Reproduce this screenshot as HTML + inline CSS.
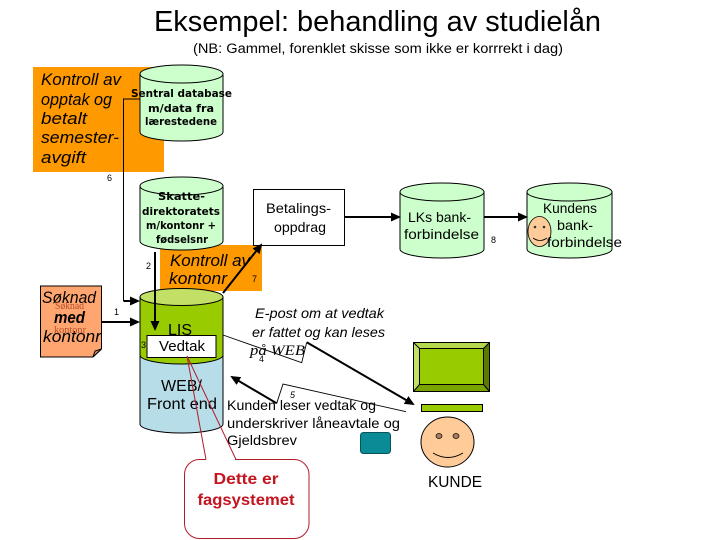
<!DOCTYPE html>
<html><head><meta charset="utf-8"><style>
html,body{margin:0;padding:0;background:#fff}
svg{display:block}
text{font-family:"Liberation Sans",sans-serif;fill:#000}
.b{font-weight:bold;font-size:11px;font-family:"DejaVu Sans",sans-serif}
.i{font-style:italic;font-size:17px}
.n{font-size:14px}
</style></head><body>
<svg width="720" height="540" viewBox="0 0 720 540" xmlns="http://www.w3.org/2000/svg">
<defs><marker id="a" markerWidth="10" markerHeight="10" refX="8" refY="4.500" orient="auto" markerUnits="userSpaceOnUse"><path d="M0 0L10 4.500L0 9Z" fill="#000"/></marker></defs>
<rect width="720" height="540" fill="#fff"/>
<text x="154" y="31" font-size="29" textLength="447" lengthAdjust="spacingAndGlyphs">Eksempel: behandling av studielån</text>
<text x="193" y="53" font-size="13.5" textLength="370" lengthAdjust="spacingAndGlyphs">(NB: Gammel, forenklet skisse som ikke er korrrekt i dag)</text>

<rect x="33" y="67" width="131" height="105" fill="#ff9900"/>
<rect x="160" y="245" width="102" height="46" fill="#ff9900"/>

<g stroke="#000" stroke-width="1" fill="#ccffcc">
<path d="M140 74V132A41.5 9 0 0 0 223 132V74Z"/><ellipse cx="181.500" cy="74" rx="41.500" ry="9"/>
<path d="M140 186V241A41.500 9 0 0 0 223 241V186Z"/><ellipse cx="181.500" cy="186" rx="41.500" ry="9"/>
<path d="M400 192V249A42 9 0 0 0 484 249V192Z"/><ellipse cx="442" cy="192" rx="42" ry="9"/>
<path d="M527 192V249A42.500 9 0 0 0 612 249V192Z"/><ellipse cx="569.500" cy="192" rx="42.500" ry="9"/>
<path d="M140 355V424A41.500 9 0 0 0 223 424V355Z" fill="#b7dde8"/>
<path d="M140 297V355A41.500 9 0 0 0 223 355V297Z" fill="#99cc00"/><ellipse cx="181.500" cy="297" rx="41.500" ry="8.500" fill="#c2e066"/>
</g>

<rect x="253.500" y="189.500" width="91" height="56" fill="#fff" stroke="#000"/>
<rect x="147" y="335.500" width="69" height="22" fill="#fff" stroke="#000"/>
<path d="M40.500 286H101.500V349L93 357H40.500Z" fill="#ffa570" stroke="#000"/>
<path d="M93 357L95 351L101.500 349Z" fill="#d98a58" stroke="#000"/>

<g transform="translate(413,342)">
<rect x="0.500" y="0.500" width="76" height="49" fill="#99cc00" stroke="#000"/>
<path d="M0.500 .5L7 7H70L76.500 .5Z" fill="#b5d94d"/>
<path d="M.5 .5L7 7V43L.5 49.500Z" fill="#c2e066"/>
<path d="M76.500 .5L70 7V43L76.500 49.500Z" fill="#5c7a00"/>
<path d="M.5 49.500L7 43H70L76.500 49.500Z" fill="#7aa300"/>
<rect x="6.500" y="6.500" width="64" height="36" fill="#99cc00" stroke="#000"/>
<path d="M.5 .5L6.500 6.500M76.500 .5L70.500 6.500M.5 49.500L6.500 42.500M76.500 49.500L70.500 42.500" stroke="#000"/>
<rect x=".5" y=".5" width="76" height="49" fill="none" stroke="#000"/>
</g>
<rect x="421.500" y="404.500" width="61" height="7" fill="#99cc00" stroke="#000"/>
<ellipse cx="447.500" cy="442" rx="26.500" ry="25" fill="#ffcc99" stroke="#000"/>
<ellipse cx="439" cy="436" rx="3" ry="2.500" fill="#a88060" stroke="#000" stroke-width=".7"/>
<ellipse cx="456" cy="436" rx="3" ry="2.500" fill="#a88060" stroke="#000" stroke-width=".7"/>
<path d="M433 453Q448 462 463 453" fill="none" stroke="#000"/>
<rect x="360.500" y="432.500" width="30" height="21" rx="3" fill="#0b8b96" stroke="#06545c"/>
<ellipse cx="539.500" cy="231.500" rx="11.500" ry="15" fill="#ffcc99" stroke="#000" stroke-width=".8"/>
<circle cx="535" cy="227" r="1.300" fill="#333"/><circle cx="544" cy="227" r="1.300" fill="#333"/>
<path d="M533 238Q540 243 547 238" fill="none" stroke="#000" stroke-width=".8"/>

<g fill="none" stroke="#000">
<path d="M140 99H123.500V301"/>
<path d="M123.500 301H138" stroke-width="2" marker-end="url(#a)"/>
<path d="M101.500 322H138" stroke-width="2" marker-end="url(#a)"/>
<path d="M155 252V329" stroke-width="2" marker-end="url(#a)"/>
<path d="M223 293L261 245" stroke-width="2" marker-end="url(#a)"/>
<path d="M344.500 217H399" stroke-width="2" marker-end="url(#a)"/>
<path d="M484 217H526" stroke-width="2" marker-end="url(#a)"/>
<path d="M223 335L301.700 362.700L306.700 342.300" stroke-width=".9"/>
<path d="M306.700 342.300L413 404" stroke-width="2" marker-end="url(#a)"/>
<path d="M406 411.700L283 384L276.700 403.300" stroke-width=".9"/>
<path d="M276.700 403.300L232 377" stroke-width="2" marker-end="url(#a)"/>
</g>

<text class="i" x="41" y="85" textLength="80" lengthAdjust="spacingAndGlyphs">Kontroll av</text>
<text class="i" x="41" y="105" textLength="71" lengthAdjust="spacingAndGlyphs">opptak og</text>
<text class="i" x="41" y="124" textLength="46" lengthAdjust="spacingAndGlyphs">betalt</text>
<text class="i" x="41" y="143" textLength="78" lengthAdjust="spacingAndGlyphs">semester-</text>
<text class="i" x="41" y="163" textLength="45" lengthAdjust="spacingAndGlyphs">avgift</text>
<text class="i" x="170" y="266" textLength="80" lengthAdjust="spacingAndGlyphs">Kontroll av</text>
<text class="i" x="169" y="284" textLength="58" lengthAdjust="spacingAndGlyphs">kontonr</text>
<text class="i" x="42" y="303" textLength="54" lengthAdjust="spacingAndGlyphs">Søknad</text>
<text class="i" x="54" y="323" textLength="31" lengthAdjust="spacingAndGlyphs" font-weight="bold">med</text>
<text class="i" x="43" y="342" textLength="58" lengthAdjust="spacingAndGlyphs">kontonr</text>
<text x="55" y="309" font-size="10" textLength="29" lengthAdjust="spacingAndGlyphs" style="font-family:'Liberation Serif',serif;fill:#b5502a">Søknad</text>
<text x="54" y="333" font-size="10" textLength="32" lengthAdjust="spacingAndGlyphs" style="font-family:'Liberation Serif',serif;fill:#b5502a">kontonr</text>

<text class="b" x="131" y="97" textLength="101" lengthAdjust="spacingAndGlyphs">Sentral database</text>
<text class="b" x="148" y="112" textLength="66" lengthAdjust="spacingAndGlyphs">m/data fra</text>
<text class="b" x="145" y="125" textLength="72" lengthAdjust="spacingAndGlyphs">lærestedene</text>
<text class="b" x="158" y="200" textLength="47" lengthAdjust="spacingAndGlyphs">Skatte-</text>
<text class="b" x="142" y="215" textLength="78" lengthAdjust="spacingAndGlyphs">direktoratets</text>
<text class="b" x="146" y="229" textLength="70" lengthAdjust="spacingAndGlyphs">m/kontonr +</text>
<text class="b" x="156" y="243" textLength="52" lengthAdjust="spacingAndGlyphs">fødselsnr</text>

<text class="n" x="266" y="213" textLength="65" lengthAdjust="spacingAndGlyphs">Betalings-</text>
<text class="n" x="274" y="232" textLength="52" lengthAdjust="spacingAndGlyphs">oppdrag</text>
<text class="n" x="408" y="222" textLength="63" lengthAdjust="spacingAndGlyphs">LKs bank-</text>
<text class="n" x="404" y="239" textLength="75" lengthAdjust="spacingAndGlyphs">forbindelse</text>
<text class="n" x="543" y="213" textLength="54" lengthAdjust="spacingAndGlyphs">Kundens</text>
<text class="n" x="557" y="230" textLength="36" lengthAdjust="spacingAndGlyphs">bank-</text>
<text class="n" x="547" y="247" textLength="75" lengthAdjust="spacingAndGlyphs">forbindelse</text>

<text x="168" y="335" font-size="16" textLength="24" lengthAdjust="spacingAndGlyphs">LIS</text>
<text x="159" y="351" font-size="15" textLength="46" lengthAdjust="spacingAndGlyphs">Vedtak</text>
<text x="161" y="391" font-size="16" textLength="41" lengthAdjust="spacingAndGlyphs">WEB/</text>
<text x="147" y="409" font-size="16" textLength="70" lengthAdjust="spacingAndGlyphs">Front end</text>

<text x="255" y="318" font-size="14" font-style="italic" textLength="129" lengthAdjust="spacingAndGlyphs">E-post  om at vedtak</text>
<text x="252" y="337" font-size="14" font-style="italic" textLength="133" lengthAdjust="spacingAndGlyphs">er  fattet og kan leses</text>
<text x="250" y="355" font-size="15" font-style="italic" textLength="55" lengthAdjust="spacingAndGlyphs" style="font-family:'Liberation Serif',serif">på WEB</text>
<text class="n" x="227" y="410" textLength="149" lengthAdjust="spacingAndGlyphs">Kunden leser vedtak og</text>
<text class="n" x="227" y="428" textLength="173" lengthAdjust="spacingAndGlyphs">underskriver  låneavtale og</text>
<text class="n" x="227" y="445" textLength="70" lengthAdjust="spacingAndGlyphs">Gjeldsbrev</text>

<rect x="184.500" y="459.500" width="124.500" height="79" rx="15" fill="#fff" stroke="#b01c2a"/>
<rect x="206" y="457" width="29" height="4" fill="#fff" opacity="0"/>
<path d="M206 459.500H235" stroke="#fff" stroke-width="2"/>
<path d="M206 459.500L187 356L236 459.500" fill="none" stroke="#b01c2a"/>

<text x="246" y="484" font-size="16" font-weight="bold" text-anchor="middle" style="fill:#c3141f" textLength="65" lengthAdjust="spacingAndGlyphs">Dette er</text>
<text x="246" y="505" font-size="16" font-weight="bold" text-anchor="middle" style="fill:#c3141f" textLength="97" lengthAdjust="spacingAndGlyphs">fagsystemet</text>
<text x="428" y="487" font-size="16" textLength="54" lengthAdjust="spacingAndGlyphs">KUNDE</text>

<g font-size="9">
<text x="114" y="315">1</text><text x="146" y="269">2</text><text x="141" y="348">3</text>
<text x="259" y="362">4</text><text x="290" y="398" font-style="italic">5</text><text x="107" y="181">6</text>
<text x="252" y="282">7</text><text x="491" y="243">8</text>
</g>
</svg>
</body></html>
